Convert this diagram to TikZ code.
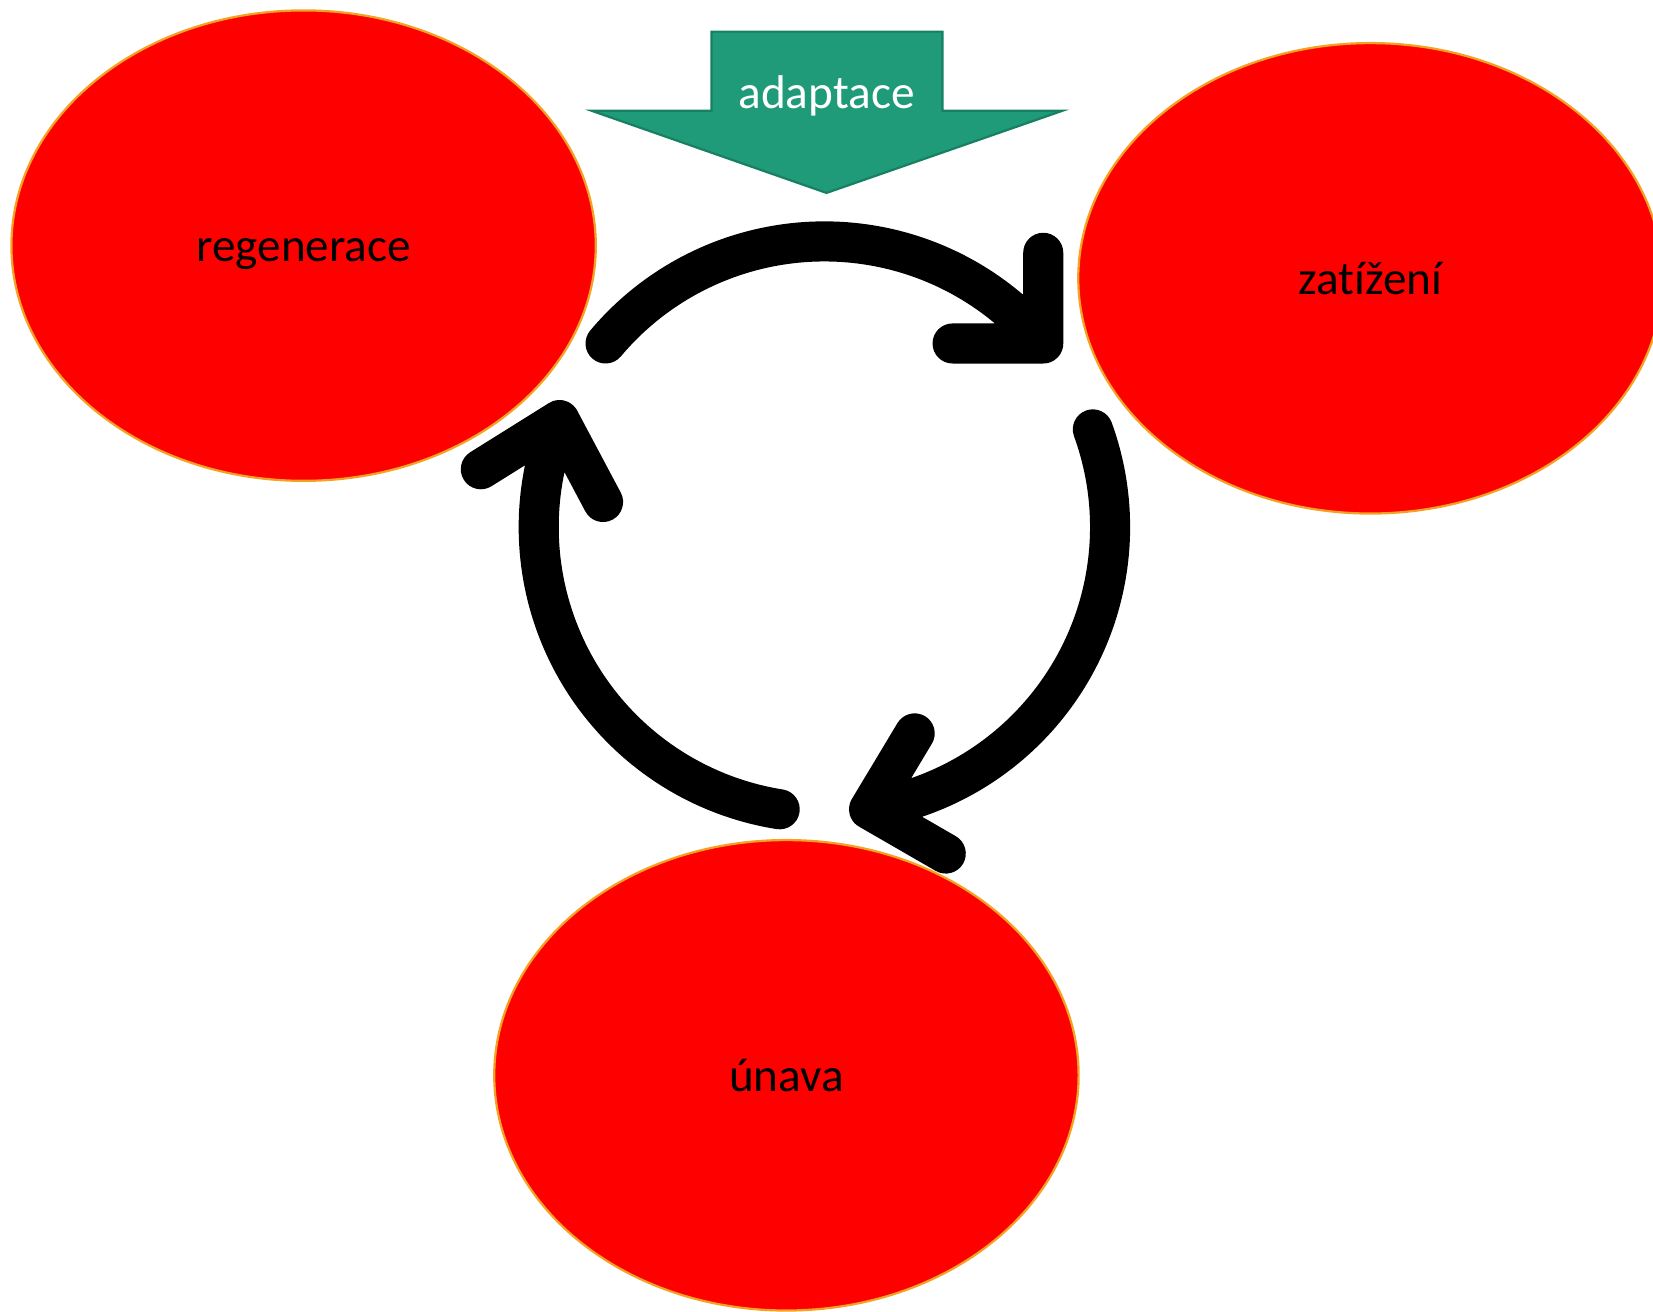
\documentclass[tikz,border=0pt]{standalone}
\usepackage{fontspec}
\setmainfont{Carlito}[Ligatures=NoCommon]
\usetikzlibrary{shapes.geometric}

\definecolor{blobred}{RGB}{255,0,0}
\definecolor{bloborange}{RGB}{244,162,36}
\definecolor{adaptgreen}{RGB}{31,155,121}
\definecolor{adaptedge}{RGB}{24,128,98}

\tikzset{
  label text/.style={font=\fontsize{12.75}{15}\selectfont, text height=8.6pt, text depth=0pt},
  blob/.style={ellipse, fill=blobred, draw=bloborange, line width=0.6pt,
    minimum width=5.54cm, minimum height=4.46cm, inner sep=0pt, label text},
  cycarrow/.style={line width=0.38cm, line cap=round, line join=round},
}

\begin{document}
\begin{tikzpicture}[x=0.01cm, y=0.01cm]
  \useasboundingbox (0,0) rectangle (1568,1244);
  \clip (0,0) rectangle (1568,1244);

  % Phases of the cycle
  \node[blob] (regen) at (288,1011) {regenerace};
  \node[blob] (zatiz) at (1300,980) {zatížení};
  \node[blob] (unava) at (746,224) {únava};

  % Adaptation block arrow
  \draw[fill=adaptgreen, draw=adaptedge, line width=0.6pt]
    (675,1214) -- (894,1214) -- (894,1139) -- (1008,1139) -- (784,1061)
    -- (561,1139) -- (675,1139) -- cycle;
  \node[label text, text=white] (adapt) at (784,1156) {adaptace};

  % Circular arrows
  \coordinate (hub) at (782,744);
  \draw[cycarrow] (hub) ++(140:271) arc[start angle=140, end angle=40, radius=271]
    coordinate (tipA) -- ++(180:86) (tipA) -- ++(90:86);
  \draw[cycarrow] (hub) ++(20:271) arc[start angle=20, end angle=-81, radius=271]
    coordinate (tipB) -- ++(59:84) (tipB) -- ++(-30:84);
  \draw[cycarrow] (hub) ++(-99:271) arc[start angle=-99, end angle=-202, radius=271]
    coordinate (tipC) -- ++(298:88) (tipC) -- ++(212:88);
\end{tikzpicture}
\end{document}
